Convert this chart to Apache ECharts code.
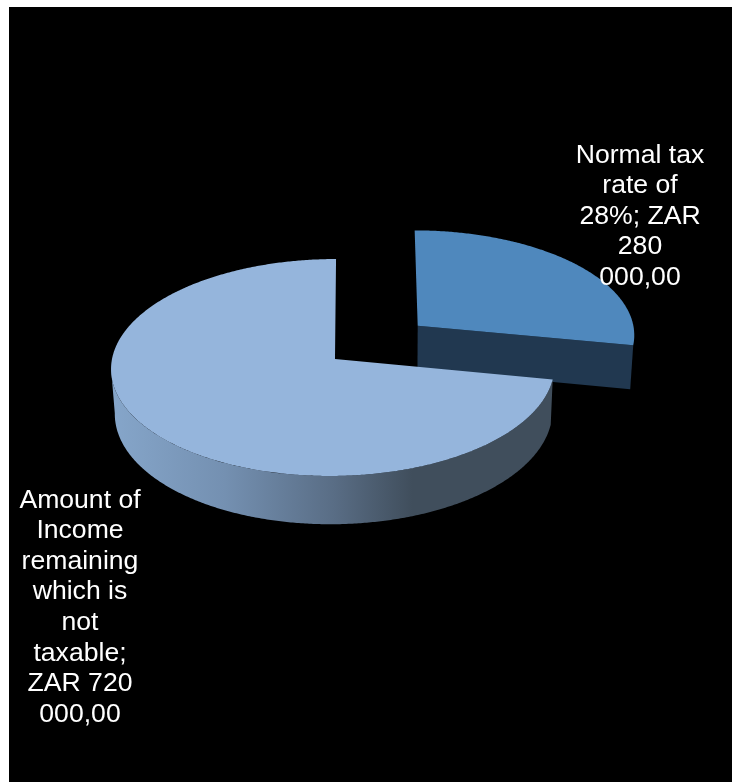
<!DOCTYPE html>
<html>
<head>
<meta charset="utf-8">
<title>Income split</title>
<style>
  html, body { margin: 0; padding: 0; background: #fff; }
  #chart { width: 732px; height: 782px; }
</style>
<script src="https://cdn.jsdelivr.net/npm/echarts@6/dist/echarts.min.js"></script>
</head>
<body>
<div id="chart"></div>
<script>
// Income split, clockwise from twelve o'clock
const sliceNames = ['Normal tax rate of 28%', 'Amount of Income remaining which is not taxable'];
const sliceValues = [280000, 720000];
const sliceLabels = [
  'Normal tax\nrate of\n28%; ZAR\n280\n000,00',
  'Amount of\nIncome\nremaining\nwhich is\nnot\ntaxable;\nZAR 720\n000,00'
];

// Look of each slice: top colour, explode offset, apex nudge, label anchor
const sliceStyles = [
  { top: '#4f88bd', explode: [0.388, -0.316], apex: [0, 0], label: [640, 140], wall: 'cut' },
  { top: '#95b5dc', explode: [0, 0], apex: [0.009, 0], label: [80, 485], wall: 'rim' }
];

// Tilted-disc projection: plan coordinates (u right, v toward the viewer)
const view = { vanishX: 375, shiftX: -42, cy: 359, rx: 221, ry: 107.8, k: 0.0783 };
const depth = { height: 44.5, footX: 400, footScale: 0.987 };
const rimStopDeg = 265;

function project(u, v) {
  const w = 1 - view.k * v;
  return [
    view.vanishX + (view.rx * u + view.shiftX) / w,
    view.cy + view.ry * v / w,
    w
  ];
}
function foot(p) {
  return [
    depth.footX + (p[0] - depth.footX) * depth.footScale,
    p[1] + depth.height / p[2]
  ];
}
function rimPoint(style, deg) {
  const a = deg * Math.PI / 180;
  return project(style.explode[0] + Math.sin(a), style.explode[1] - Math.cos(a));
}
function arc(style, from, to) {
  const pts = [];
  const n = Math.max(2, Math.ceil(Math.abs(to - from) * 2));
  for (let i = 0; i <= n; i++) pts.push(rimPoint(style, from + (to - from) * i / n));
  return pts;
}
const xy = p => [p[0], p[1]];

const total = sliceValues.reduce((s, x) => s + x, 0);
const startDeg = [];
sliceValues.reduce((acc, x, i) => { startDeg[i] = acc; return acc + x / total * 360; }, 0);

const wallShade = new echarts.graphic.LinearGradient(116, 0, 552, 0, [
  { offset: 0, color: '#85a5c9' },
  { offset: 0.25, color: '#7490b1' },
  { offset: 0.5, color: '#596d85' },
  { offset: 0.68, color: '#404e5c' },
  { offset: 1, color: '#404e5c' }
], true);

function renderSlice(params, api) {
  const i = params.dataIndex;
  const style = sliceStyles[i];
  const from = startDeg[i];
  const to = from + api.value(0) / total * 360;
  const apex = project(style.explode[0] + style.apex[0], style.explode[1] + style.apex[1]);
  const rim = arc(style, from, to);
  const children = [];

  if (style.wall === 'cut') {
    // Exploded slice shows the flat cut running from the apex to the rim
    const corner = rim[rim.length - 1];
    children.push({
      type: 'polygon',
      shape: { points: [xy(apex), xy(corner), foot(corner), foot(apex)] },
      style: { fill: '#213850' }
    });
  } else {
    // Larger slice shows its curved outer wall, shaded left to right
    const front = arc(style, from, rimStopDeg);
    const back = front.map(foot).reverse();
    children.push({
      type: 'polygon',
      shape: { points: front.map(xy).concat(back) },
      style: { fill: wallShade }
    });
  }

  children.push({
    type: 'polygon',
    shape: { points: [xy(apex)].concat(rim.map(xy)) },
    style: { fill: style.top }
  });

  return { type: 'group', children };
}

function renderLabel(params) {
  const i = params.dataIndex;
  const style = sliceStyles[i];
  return {
    type: 'text',
    x: style.label[0],
    y: style.label[1],
    style: {
      text: sliceLabels[i],
      fill: '#fff',
      font: '26.6px "Liberation Sans", Arial, sans-serif',
      lineHeight: 30.6,
      align: 'center',
      verticalAlign: 'top'
    }
  };
}

const chart = echarts.init(document.getElementById('chart'), null, { renderer: 'canvas' });
const pieData = sliceValues.map((value, i) => ({ name: sliceNames[i], value: [value] }));
chart.setOption({
  animation: false,
  backgroundColor: '#fff',
  graphic: [{
    type: 'rect',
    z: -10,
    shape: { x: 9, y: 7, width: 723, height: 775 },
    style: { fill: '#000' }
  }],
  series: [
    { type: 'custom', coordinateSystem: 'none', z: 2, data: pieData, renderItem: renderSlice },
    { type: 'custom', coordinateSystem: 'none', z: 3, data: pieData, renderItem: renderLabel, silent: true }
  ]
});
</script>
</body>
</html>
